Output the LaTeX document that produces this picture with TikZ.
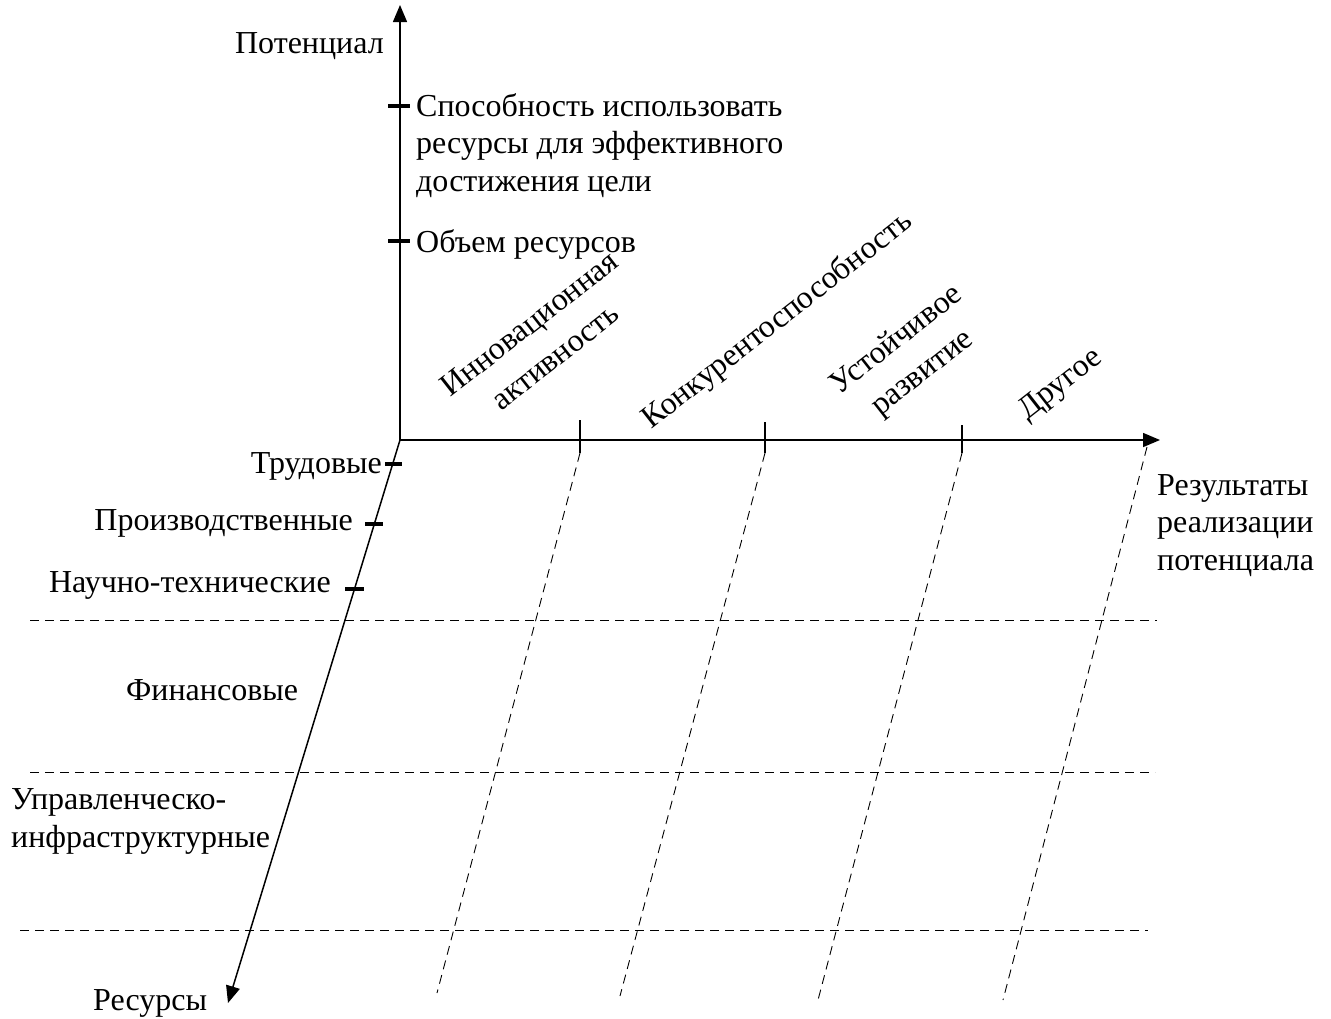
\documentclass[tikz,border=0pt]{standalone}
\usepackage{fontspec}
\setmainfont{Liberation Serif}
\usetikzlibrary{arrows.meta}
\begin{document}
\begin{tikzpicture}[x=1pt,y=-1pt,
  axis/.style={line width=1.5pt,-{Triangle[length=17pt,width=14pt]}},
  gridline/.style={line width=0.9pt,dash pattern=on 9pt off 6pt},
  tickbar/.style={line width=4.5pt},
  smalltick/.style={line width=1.4pt},
  lbl/.style={font=\fontsize{32}{37.5}\selectfont, inner sep=0pt, align=left},
  rot/.style={font=\fontsize{32}{42}\selectfont, inner sep=0pt, align=center, rotate=38}]
\useasboundingbox (0,0) rectangle (1331,1018);
% axes
\coordinate (O) at (400,440);
\coordinate (ytop) at (400,5);
\coordinate (xend) at (1160,440);
\coordinate (zend) at (228,1003);
\draw[axis] (O) -- (ytop);
\draw[axis] (O) -- (xend);
\draw[axis] (O) -- (zend);
% ticks on vertical axis
\coordinate (t1a) at (388,106); \coordinate (t1b) at (410,106);
\coordinate (t2a) at (388,241); \coordinate (t2b) at (410,241);
\draw[tickbar] (t1a) -- (t1b);
\draw[tickbar] (t2a) -- (t2b);
% ticks on oblique axis
\coordinate (r1a) at (385,464); \coordinate (r1b) at (402,464);
\coordinate (r2a) at (365,524); \coordinate (r2b) at (383,524);
\coordinate (r3a) at (345,589); \coordinate (r3b) at (364,589);
\draw[tickbar] (r1a) -- (r1b);
\draw[tickbar] (r2a) -- (r2b);
\draw[tickbar] (r3a) -- (r3b);
% ticks on horizontal axis
\coordinate (h1a) at (580,420); \coordinate (h1b) at (580,453);
\coordinate (h2a) at (765,422); \coordinate (h2b) at (765,453);
\coordinate (h3a) at (962,425); \coordinate (h3b) at (962,453);
\draw[smalltick] (h1a) -- (h1b);
\draw[smalltick] (h2a) -- (h2b);
\draw[smalltick] (h3a) -- (h3b);
% oblique dashed lines
\coordinate (d4a) at (1147,447);
\coordinate (d1b) at (437,993);
\coordinate (d2b) at (620,996);
\coordinate (d3b) at (818,1000);
\coordinate (d4b) at (1003,1000);
\draw[gridline] (h1b) -- (d1b);
\draw[gridline] (h2b) -- (d2b);
\draw[gridline] (h3b) -- (d3b);
\draw[gridline] (d4a) -- (d4b);
% horizontal dashed lines
\coordinate (g1a) at (30,620); \coordinate (g1b) at (1157,620);
\coordinate (g2a) at (30,772); \coordinate (g2b) at (1155,772);
\coordinate (g3a) at (20,930); \coordinate (g3b) at (1148,930);
\draw[gridline] (g1a) -- (g1b);
\draw[gridline] (g2a) -- (g2b);
\draw[gridline] (g3a) -- (g3b);
% labels
\node[lbl, anchor=base east] (pot) at (384,53) {Потенциал};
\node[lbl, anchor=base west] (spos) at (416,191) {Способность использовать\\ресурсы для эффективного\\достижения цели};
\node[lbl, anchor=base west] (obj) at (416,252) {Объем ресурсов};
\node[lbl, anchor=base east] (trud) at (382,473) {Трудовые};
\node[lbl, anchor=base east] (proiz) at (353,530) {Производственные};
\node[lbl, anchor=base east] (nauch) at (331,592) {Научно-технические};
\node[lbl, anchor=base west] (fin) at (126,700) {Финансовые};
\node[lbl, anchor=base west] (upr) at (11,847) {Управленческо-\\инфраструктурные};
\node[lbl, anchor=base west] (res) at (93,1010) {Ресурсы};
\node[lbl, anchor=base west] (rez) at (1157,570) {Результаты\\реализации\\потенциала};
\node[rot] (inn) at (542,340) {Инновационная\\активность};
\node[rot] (konk) at (778,321) {Конкурентоспособность};
\node[rot] (ust) at (910,357) {Устойчивое\\развитие};
\node[rot] (drug) at (1061,385) {Другое};
\end{tikzpicture}
\end{document}
